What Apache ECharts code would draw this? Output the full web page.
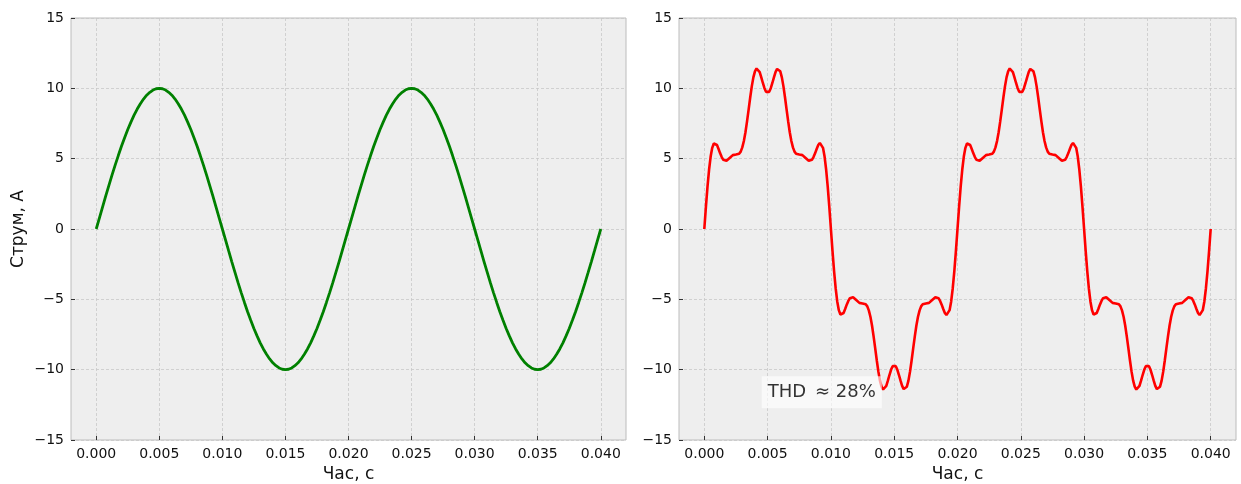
<!DOCTYPE html>
<html>
<head>
<meta charset="utf-8">
<script src="https://cdn.jsdelivr.net/npm/echarts@6/dist/echarts.min.js"></script>
<style>
  html, body { margin: 0; padding: 0; background: #ffffff; overflow: hidden; }
  #chart { width: 1241px; height: 484px; }
</style>
</head>
<body>
<div id="chart"></div>
<script>
// ---- data ----
// time step of the samples, seconds
const SINE_STEP = 0.00025;
const DIST_STEP = 0.000125;

// pure sinusoidal current, A (samples every 0.25 ms, 0 ... 0.04 s)
const sineCurrent = [
  0, 0.78, 1.56, 2.33, 3.09, 3.83, 4.54, 5.22, 5.88, 6.49, 7.07, 7.60, 8.09, 8.53, 8.91, 9.24, 9.51, 9.72, 9.88, 9.97,
  10, 9.97, 9.88, 9.72, 9.51, 9.24, 8.91, 8.53, 8.09, 7.60, 7.07, 6.49, 5.88, 5.22, 4.54, 3.83, 3.09, 2.33, 1.56, 0.78,
  0, -0.78, -1.56, -2.33, -3.09, -3.83, -4.54, -5.22, -5.88, -6.49, -7.07, -7.60, -8.09, -8.53, -8.91, -9.24, -9.51, -9.72, -9.88, -9.97,
  -10, -9.97, -9.88, -9.72, -9.51, -9.24, -8.91, -8.53, -8.09, -7.60, -7.07, -6.49, -5.88, -5.22, -4.54, -3.83, -3.09, -2.33, -1.56, -0.78,
  0, 0.78, 1.56, 2.33, 3.09, 3.83, 4.54, 5.22, 5.88, 6.49, 7.07, 7.60, 8.09, 8.53, 8.91, 9.24, 9.51, 9.72, 9.88, 9.97,
  10, 9.97, 9.88, 9.72, 9.51, 9.24, 8.91, 8.53, 8.09, 7.60, 7.07, 6.49, 5.88, 5.22, 4.54, 3.83, 3.09, 2.33, 1.56, 0.78,
  0, -0.78, -1.56, -2.33, -3.09, -3.83, -4.54, -5.22, -5.88, -6.49, -7.07, -7.60, -8.09, -8.53, -8.91, -9.24, -9.51, -9.72, -9.88, -9.97,
  -10, -9.97, -9.88, -9.72, -9.51, -9.24, -8.91, -8.53, -8.09, -7.60, -7.07, -6.49, -5.88, -5.22, -4.54, -3.83, -3.09, -2.33, -1.56, -0.78,
  0
];

// distorted current, A (samples every 0.125 ms, 0 ... 0.04 s)
const distortedCurrent = [
  0, 1.55, 2.99, 4.21, 5.15, 5.77, 6.08, 6.12, 5.97, 5.69,
  5.38, 5.11, 4.92, 4.84, 4.85, 4.94, 5.05, 5.17, 5.25, 5.28,
  5.29, 5.30, 5.35, 5.50, 5.80, 6.26, 6.88, 7.65, 8.49, 9.35,
  10.14, 10.78, 11.21, 11.41, 11.38, 11.15, 10.78, 10.38, 10.01, 9.75,
  9.66, 9.75, 10.01, 10.38, 10.78, 11.15, 11.38, 11.41, 11.21, 10.78,
  10.14, 9.35, 8.49, 7.65, 6.88, 6.26, 5.80, 5.50, 5.35, 5.30,
  5.29, 5.28, 5.25, 5.17, 5.05, 4.94, 4.85, 4.84, 4.92, 5.11,
  5.38, 5.69, 5.97, 6.12, 6.08, 5.77, 5.15, 4.21, 2.99, 1.55,
  0,
  -1.55, -2.99, -4.21, -5.15, -5.77, -6.08, -6.12, -5.97, -5.69,
  -5.38, -5.11, -4.92, -4.84, -4.85, -4.94, -5.05, -5.17, -5.25, -5.28,
  -5.29, -5.30, -5.35, -5.50, -5.80, -6.26, -6.88, -7.65, -8.49, -9.35,
  -10.14, -10.78, -11.21, -11.41, -11.38, -11.15, -10.78, -10.38, -10.01, -9.75,
  -9.66, -9.75, -10.01, -10.38, -10.78, -11.15, -11.38, -11.41, -11.21, -10.78,
  -10.14, -9.35, -8.49, -7.65, -6.88, -6.26, -5.80, -5.50, -5.35, -5.30,
  -5.29, -5.28, -5.25, -5.17, -5.05, -4.94, -4.85, -4.84, -4.92, -5.11,
  -5.38, -5.69, -5.97, -6.12, -6.08, -5.77, -5.15, -4.21, -2.99, -1.55,
  0,
  1.55, 2.99, 4.21, 5.15, 5.77, 6.08, 6.12, 5.97, 5.69,
  5.38, 5.11, 4.92, 4.84, 4.85, 4.94, 5.05, 5.17, 5.25, 5.28,
  5.29, 5.30, 5.35, 5.50, 5.80, 6.26, 6.88, 7.65, 8.49, 9.35,
  10.14, 10.78, 11.21, 11.41, 11.38, 11.15, 10.78, 10.38, 10.01, 9.75,
  9.66, 9.75, 10.01, 10.38, 10.78, 11.15, 11.38, 11.41, 11.21, 10.78,
  10.14, 9.35, 8.49, 7.65, 6.88, 6.26, 5.80, 5.50, 5.35, 5.30,
  5.29, 5.28, 5.25, 5.17, 5.05, 4.94, 4.85, 4.84, 4.92, 5.11,
  5.38, 5.69, 5.97, 6.12, 6.08, 5.77, 5.15, 4.21, 2.99, 1.55,
  0,
  -1.55, -2.99, -4.21, -5.15, -5.77, -6.08, -6.12, -5.97, -5.69,
  -5.38, -5.11, -4.92, -4.84, -4.85, -4.94, -5.05, -5.17, -5.25, -5.28,
  -5.29, -5.30, -5.35, -5.50, -5.80, -6.26, -6.88, -7.65, -8.49, -9.35,
  -10.14, -10.78, -11.21, -11.41, -11.38, -11.15, -10.78, -10.38, -10.01, -9.75,
  -9.66, -9.75, -10.01, -10.38, -10.78, -11.15, -11.38, -11.41, -11.21, -10.78,
  -10.14, -9.35, -8.49, -7.65, -6.88, -6.26, -5.80, -5.50, -5.35, -5.30,
  -5.29, -5.28, -5.25, -5.17, -5.05, -4.94, -4.85, -4.84, -4.92, -5.11,
  -5.38, -5.69, -5.97, -6.12, -6.08, -5.77, -5.15, -4.21, -2.99, -1.55,
  0
];

// x tick values (s); y ticks every 5 A
const xTicks = [0, 0.005, 0.01, 0.015, 0.02, 0.025, 0.03, 0.035, 0.04];
const xRange = [-0.002, 0.042];
const yRange = [-15, 15];

// annotation
const thdLabel = 'THD\u2002\u2248 28%';
const thdPos = [0.005, -11.6];

const xName = 'Час, с';
const yName = 'Струм, А';

// ---- chart ----
const FONT = 'DejaVu Sans';
const TXT = '#111111';
const chart = echarts.init(document.getElementById('chart'), null, { renderer: 'canvas' });

function pairs(values, step) {
  return values.map((v, i) => [i * step, v]);
}
function minusFmt(v) {
  return String(v).replace('-', '\u2212');
}

function makeX(idx) {
  return {
    type: 'value', gridIndex: idx, min: xRange[0], max: xRange[1],
    name: xName, nameLocation: 'middle', nameGap: 22,
    nameTextStyle: { fontFamily: FONT, fontSize: 17, color: TXT },
    axisLine: { show: false, onZero: false },
    axisTick: { show: true, inside: true, length: 4, customValues: xTicks,
      lineStyle: { color: '#333', width: 1 } },
    axisLabel: { customValues: xTicks, margin: 7, fontFamily: FONT, fontSize: 14, color: TXT,
      formatter: v => v.toFixed(3) },
    splitLine: { show: true, lineStyle: { color: '#c8c8c8', width: 0.8, type: [3, 2] } }
  };
}
function makeY(idx, withName) {
  return {
    type: 'value', gridIndex: idx, min: yRange[0], max: yRange[1], interval: 5,
    name: withName ? yName : '', nameLocation: 'middle', nameGap: 44,
    nameTextStyle: { fontFamily: FONT, fontSize: 17, color: TXT },
    axisLine: { show: false, onZero: false },
    axisTick: { show: true, inside: true, length: 4, lineStyle: { color: '#333', width: 1 } },
    axisLabel: { margin: 7, fontFamily: FONT, fontSize: 14, color: TXT, formatter: minusFmt },
    splitLine: { show: true, lineStyle: { color: '#c8c8c8', width: 0.8, type: [3, 2] } }
  };
}

const gridStyle = { show: true, backgroundColor: '#eeeeee', borderColor: '#bcbcbc', borderWidth: 1,
  outerBoundsMode: 'none', containLabel: false };

chart.setOption({
  animation: false,
  backgroundColor: '#ffffff',
  textStyle: { fontFamily: FONT },
  grid: [
    Object.assign({ left: 71, top: 18, width: 555, height: 422 }, gridStyle),
    Object.assign({ left: 679, top: 18, width: 557, height: 422 }, gridStyle)
  ],
  xAxis: [makeX(0), makeX(1)],
  yAxis: [makeY(0, true), makeY(1, false)],
  series: [
    {
      type: 'line', xAxisIndex: 0, yAxisIndex: 0,
      data: pairs(sineCurrent, SINE_STEP),
      showSymbol: false, symbol: 'none', smooth: false,
      lineStyle: { color: '#008000', width: 2.8 }, z: 3
    },
    {
      type: 'line', xAxisIndex: 1, yAxisIndex: 1,
      data: pairs(distortedCurrent, DIST_STEP),
      showSymbol: false, symbol: 'none', smooth: false,
      lineStyle: { color: '#ff0000', width: 2.6 }, z: 3
    },
    {
      type: 'scatter', xAxisIndex: 1, yAxisIndex: 1,
      data: [thdPos], symbolSize: 0.1, itemStyle: { color: 'rgba(0,0,0,0)' },
      z: 10, silent: true,
      label: {
        show: true, position: 'right', distance: 0, offset: [-6, 0],
        formatter: thdLabel, fontFamily: FONT, fontSize: 18, color: '#000',
        backgroundColor: 'rgba(255,255,255,0.8)', padding: [7, 6, 7, 6]
      }
    }
  ]
});
</script>
</body>
</html>
